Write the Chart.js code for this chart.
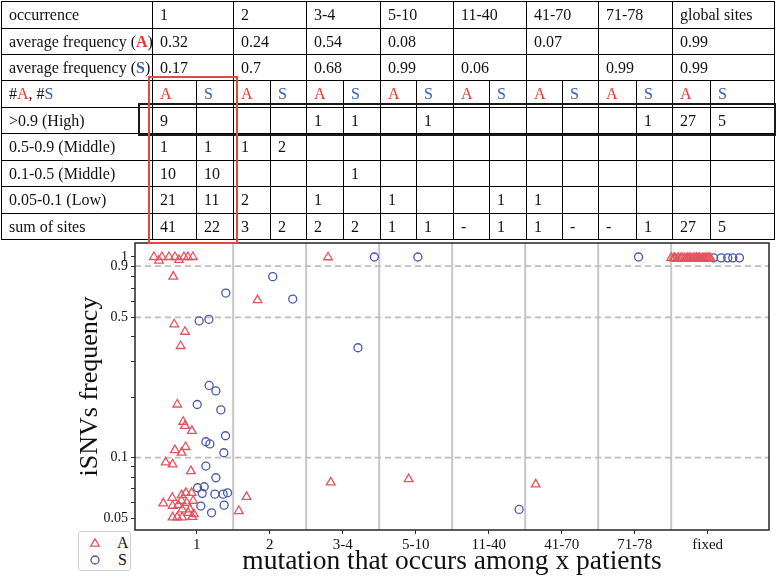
<!DOCTYPE html>
<html><head><meta charset="utf-8">
<script src="https://cdn.jsdelivr.net/npm/chart.js@4.4.1/dist/chart.umd.min.js"></script>
<style>
html,body{margin:0;padding:0;background:#fff;}
body{width:777px;height:579px;position:relative;overflow:hidden;font-family:"Liberation Serif","Times New Roman",serif;}
#chart{position:absolute;left:0;top:0;}
#tbl{position:absolute;left:0;top:0;width:777px;height:245px;}
.cell{position:absolute;box-sizing:border-box;border:1px solid #000;font-size:16px;padding-left:7px;white-space:nowrap;color:#111;overflow:hidden;}
.ca{color:#e03a30}.cs{color:#3a60a8}
#redbox{position:absolute;left:148px;top:76px;width:90px;height:168px;border:2px solid #e24a3b;box-sizing:border-box;}
#blackbox{position:absolute;left:138px;top:103px;width:638px;height:33px;border:2px solid #1a1a1a;box-sizing:border-box;}
#legend{position:absolute;left:78px;top:531px;width:53px;height:40px;border:1px solid #d0d0d0;border-radius:3px;box-sizing:border-box;background:#fff;font-size:16px;color:#111;}
#legend span{position:absolute;line-height:16px;}
</style>
</head>
<body>
<canvas id="chart" width="777" height="579"></canvas>
<div id="tbl"></div>
<div id="legend">
  <svg width="53" height="40" style="position:absolute;left:-1px;top:-1px">
    <polygon points="17,7.8 21.3,15.2 12.7,15.2" fill="none" stroke="rgb(226,84,96)" stroke-width="1.3"/>
    <circle cx="17" cy="29" r="4" fill="none" stroke="rgb(72,88,168)" stroke-width="1.3"/>
  </svg>
  <span style="left:38px;top:3px">A</span>
  <span style="left:39px;top:20px">S</span>
</div>
<script>
// ---------- data ----------
const categories = ['1','2','3-4','5-10','11-40','41-70','71-78','fixed'];

// A (nonsynonymous) iSNVs: jittered position and frequency
const aX = [0.414,0.483,0.524,0.620,0.702,0.757,0.825,0.880,0.948,
            0.679,0.692,0.839,0.780,0.733,0.815,0.839,0.934,0.702,0.793,0.848,
            0.575,0.670,0.921,0.793,0.852,0.930,0.665,0.793,0.862,0.952,0.542,0.670,0.747,0.802,0.907,0.884,0.962,0.670,0.733,0.802,0.938,
            1.833,1.683,1.577,
            2.799,2.836,
            3.903,
            5.644,
            7.50,7.53,7.55,7.58,7.60,7.63,7.65,7.68,7.70,7.72,7.74,7.76,7.78,7.80,7.82,7.84,7.85,7.87,7.89,7.91,7.93,7.95,7.96,7.98,8.00,8.02,8.04];
const aY = [1.0,0.96,1.0,1.0,1.0,0.967,1.0,1.0,1.0,
            0.798,0.462,0.424,0.360,0.184,0.151,0.144,0.136,0.109,0.106,0.113,
            0.0947,0.0926,0.0857,0.0651,0.0668,0.0668,0.0631,0.0610,0.0596,0.0610,0.0592,0.0576,0.0580,0.0552,0.0552,0.0531,0.0524,0.0504,0.0504,0.0504,0.0507,
            0.610,0.0638,0.0542,
            0.997,0.0753,
            0.0782,
            0.0736,
            0.99,0.985,0.99,0.98,0.99,0.985,0.99,0.985,0.98,0.99,0.985,0.99,0.98,0.985,0.99,0.98,0.99,0.985,0.99,0.98,0.985,0.99,0.98,0.99,0.985,0.99,0.985];

// S (synonymous) iSNVs
const sX = [1.399,1.034,1.167,1.171,1.263,1.007,1.331,1.395,1.126,1.181,1.372,
            1.126,1.263,1.012,1.103,1.075,1.249,1.363,1.423,1.057,1.376,1.204,
            2.042,2.316,
            3.209,3.434,
            4.030,
            5.417,
            7.053,
            8.08,8.185,8.275,8.344,8.435];
const sY = [0.661,0.480,0.489,0.229,0.215,0.184,0.173,0.1286,0.120,0.117,0.1058,
            0.0908,0.0794,0.0708,0.0716,0.0664,0.0658,0.0658,0.0668,0.0574,0.0580,0.0531,
            0.798,0.617,
            0.353,1.0,
            1.0,
            0.0552,
            1.0,
            0.99,0.99,0.99,0.99,0.99];

const dividerX = [1.5,2.5,3.5,4.5,5.5,6.5,7.5];
const thresholdY = [0.9,0.5,0.1];
const yTickValues = [0.05,0.06,0.07,0.08,0.09,0.1,0.2,0.3,0.4,0.5,0.6,0.7,0.8,0.9,1];
const yTickLabeled = [0.05,0.1,0.5,0.9,1];
const xRange = [0.155,8.84];
const yRange = [0.0436,1.174];

// table content
const tOccurrence = ['1','2','3-4','5-10','11-40','41-70','71-78','global sites'];
const tAvgA = ['0.32','0.24','0.54','0.08','','0.07','','0.99'];
const tAvgS = ['0.17','0.7','0.68','0.99','0.06','','0.99','0.99'];
const tRowLabels = ['>0.9 (High)','0.5-0.9 (Middle)','0.1-0.5 (Middle)','0.05-0.1 (Low)','sum of sites'];
const tHigh   = ['9','','','','1','1','','1','','','','','','1','27','5'];
const tMid1   = ['1','1','1','2','','','','','','','','','','','',''];
const tMid2   = ['10','10','','','','1','','','','','','','','','',''];
const tLow    = ['21','11','2','','1','','1','','','1','1','','','','',''];
const tSum    = ['41','22','3','2','2','2','1','1','-','1','1','-','-','1','27','5'];

// ---------- table (layout) ----------
const colEdges = [1,152,196,233,270,306,343,380,416,453,489,526,562,598,636,672,710,774];
const rowEdges = [1,28,54,80,107,133,160,186,213,239];
const tbl = document.getElementById('tbl');
function cell(c0, c1, r, html){
  const d = document.createElement('div');
  d.className = 'cell';
  const x0 = colEdges[c0], x1 = colEdges[c1], y0 = rowEdges[r], y1 = rowEdges[r+1];
  d.style.left = x0 + 'px'; d.style.top = y0 + 'px';
  d.style.width = (x1 - x0 + 1) + 'px'; d.style.height = (y1 - y0 + 1) + 'px';
  d.style.lineHeight = (y1 - y0 - 1) + 'px';
  d.innerHTML = html;
  tbl.appendChild(d);
}
cell(0,1,0,'occurrence');
cell(0,1,1,'average frequency (<b class="ca">A</b>)');
cell(0,1,2,'average frequency (<b class="cs">S</b>)');
cell(0,1,3,'#<span class="ca">A</span>, #<span class="cs">S</span>');
for (let i = 0; i < 8; i++) {
  cell(1+2*i, 3+2*i, 0, tOccurrence[i]);
  cell(1+2*i, 3+2*i, 1, tAvgA[i]);
  cell(1+2*i, 3+2*i, 2, tAvgS[i]);
}
for (let j = 0; j < 16; j++) {
  cell(1+j, 2+j, 3, j % 2 === 0 ? '<span class="ca">A</span>' : '<span class="cs">S</span>');
}
const tBody = [tHigh, tMid1, tMid2, tLow, tSum];
tBody.forEach((row, r) => {
  cell(0,1,4+r,tRowLabels[r]);
  row.forEach((v, j) => cell(1+j, 2+j, 4+r, v));
});
const bb = document.createElement('div'); bb.id = 'blackbox'; tbl.appendChild(bb);
const rb = document.createElement('div'); rb.id = 'redbox'; tbl.appendChild(rb);

// ---------- chart ----------
const FONT = '"Liberation Serif","Times New Roman",serif';
const redC = 'rgb(226,84,96)';
const blueC = 'rgb(72,88,168)';

const datasets = [
  { label: 'A', data: aX.map((x, i) => ({ x, y: aY[i] })), pointStyle: 'triangle',
    pointRadius: 5, borderColor: redC, backgroundColor: 'rgba(0,0,0,0)', pointBorderWidth: 1.3, order: 0 },
  { label: 'S', data: sX.map((x, i) => ({ x, y: sY[i] })), pointStyle: 'circle',
    pointRadius: 4, borderColor: blueC, backgroundColor: 'rgba(0,0,0,0)', pointBorderWidth: 1.3, order: 0 }
];
dividerX.forEach(d => datasets.push({
  type: 'line', label: 'div', data: [{ x: d, y: yRange[0] }, { x: d, y: yRange[1] }],
  borderColor: '#c6c6c6', borderWidth: 2, pointRadius: 0, showLine: true, order: 2
}));
thresholdY.forEach(t => datasets.push({
  type: 'line', label: 'thr', data: [{ x: xRange[0], y: t }, { x: xRange[1], y: t }],
  borderColor: '#bdbdbd', borderWidth: 1.6, borderDash: [6, 4], pointRadius: 0, showLine: true, order: 1
}));

const framePlugin = {
  id: 'frame',
  afterDraw(chart) {
    const { ctx, chartArea: { left, top, right, bottom } } = chart;
    ctx.save();
    ctx.strokeStyle = '#262626';
    ctx.lineWidth = 1.5;
    ctx.strokeRect(left, top, right - left, bottom - top);
    ctx.restore();
  }
};

new Chart(document.getElementById('chart'), {
  type: 'scatter',
  data: { datasets },
  plugins: [framePlugin],
  options: {
    responsive: false,
    animation: false,
    events: [],
    layout: { autoPadding: false, padding: { left: 0, top: 243, right: 8, bottom: 0 } },
    plugins: { legend: { display: false }, tooltip: { enabled: false } },
    scales: {
      x: {
        type: 'linear', min: xRange[0], max: xRange[1],
        afterBuildTicks: s => { s.ticks = categories.map((c, i) => ({ value: i + 1 })); },
        afterFit: s => { s.height = 49; },
        ticks: { autoSkip: false, maxRotation: 0, padding: 2, color: '#111',
                 font: { family: FONT, size: 15 },
                 callback: (v, i) => categories[i] },
        grid: { drawOnChartArea: false, drawTicks: true, tickLength: 4, tickColor: '#333', tickWidth: 1 },
        border: { display: false },
        title: { display: true, text: 'mutation that occurs among x patients', color: '#111',
                 font: { family: FONT, size: 27.5 }, padding: { top: 0, bottom: 1 } }
      },
      y: {
        type: 'logarithmic', min: yRange[0], max: yRange[1],
        afterBuildTicks: s => { s.ticks = yTickValues.map(v => ({ value: v })); },
        afterFit: s => { s.width = 135; },
        ticks: { autoSkip: false, padding: 3, color: '#111',
                 font: { family: FONT, size: 14 },
                 callback: v => yTickLabeled.includes(v) ? String(v) : '' },
        grid: { drawOnChartArea: false, drawTicks: true, tickLength: 4, tickColor: '#333', tickWidth: 1 },
        border: { display: false },
        title: { display: true, text: 'iSNVs frequency', color: '#111',
                 font: { family: FONT, size: 26 }, padding: { top: 75, bottom: 0 } }
      }
    }
  }
});
</script>
</body></html>
